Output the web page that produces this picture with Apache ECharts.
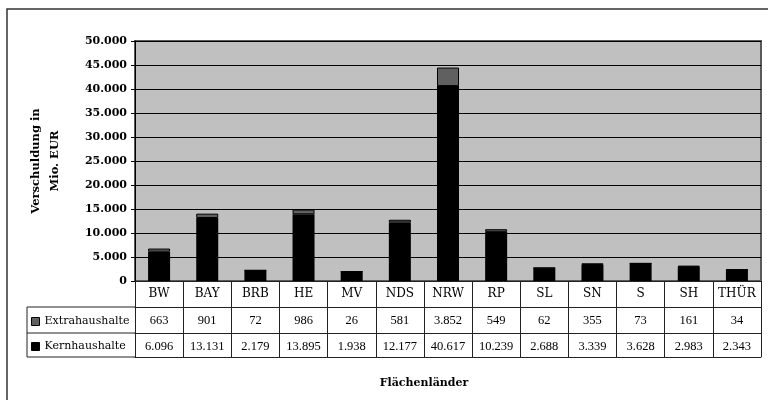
<!DOCTYPE html>
<html>
<head>
<meta charset="utf-8">
<script src="https://cdn.jsdelivr.net/npm/echarts@6/dist/echarts.min.js"></script>
<style>html,body{margin:0;padding:0;background:#fff;}#c{width:768px;height:400px;}</style>
</head>
<body>
<div id="c"></div>
<script>
const categories = ['BW','BAY','BRB','HE','MV','NDS','NRW','RP','SL','SN','S','SH','THÜR'];
const extraValues = [663,901,72,986,26,581,3852,549,62,355,73,161,34];
const kernValues = [6096,13131,2179,13895,1938,12177,40617,10239,2688,3339,3628,2983,2343];
const seriesNames = ['Extrahaushalte','Kernhaushalte'];
const yMin = 0, yMax = 50000, yStep = 5000;

function fmt(v){ return String(v).replace(/\B(?=(\d{3})+(?!\d))/g, '.'); }

const chart = echarts.init(document.getElementById('c'));
const lineCol = '#222';
const tableAxis = (data, offset, tickLen, label, fontFamily, fontSize) => ({
  type: 'category', data: data, position: 'bottom', offset: offset,
  axisLine: {show: true, lineStyle: {color: lineCol, width: 1}},
  axisTick: {show: tickLen > 0, length: tickLen, interval: 0, lineStyle: {color: lineCol, width: 1}},
  axisLabel: {show: label, interval: 0, margin: 7, color: '#000', fontFamily: fontFamily, fontSize: fontSize},
  splitLine: {show: false}
});
chart.setOption({
  animation: false,
  backgroundColor: '#fff',
  grid: {left: 135, right: 7, top: 41, bottom: 119, show: true, backgroundColor: '#c0c0c0', borderColor: '#5a5a5a', borderWidth: 2},
  legend: {
    data: seriesNames, orient: 'vertical', left: 31, top: 316, padding: 0, itemWidth: 8, itemHeight: 8, itemGap: 14,
    icon: 'rect', selectedMode: false,
    itemStyle: {borderColor: '#000', borderWidth: 1},
    textStyle: {fontFamily: 'DejaVu Serif', fontSize: 11, color: '#000'}
  },
  xAxis: [
    tableAxis(categories, 0, 26, true, 'DejaVu Serif', 12),
    tableAxis(extraValues.map(fmt), 26, 26, true, 'Liberation Serif', 12.5),
    tableAxis(kernValues.map(fmt), 52, 24, true, 'Liberation Serif', 12.5),
    tableAxis(categories, 76, 0, false, 'Liberation Serif', 12)
  ],
  yAxis: {
    type: 'value', min: yMin, max: yMax, interval: yStep,
    name: 'Verschuldung in\nMio. EUR', nameLocation: 'middle', nameRotate: 90, nameGap: 70,
    nameTextStyle: {fontFamily: 'DejaVu Serif', fontWeight: 'bold', fontSize: 11.5, color: '#000', lineHeight: 19, align: 'center'},
    axisLine: {show: true, lineStyle: {color: '#000', width: 1}},
    axisTick: {show: true, length: 4, lineStyle: {color: '#000'}},
    axisLabel: {margin: 8, fontFamily: 'DejaVu Serif', fontWeight: 'bold', fontSize: 11, color: '#000', formatter: v => fmt(v)},
    splitLine: {show: true, lineStyle: {color: '#000', width: 1}}
  },
  series: [
    {name: seriesNames[1], type: 'bar', stack: 'a', data: kernValues, barWidth: 22, itemStyle: {color: '#000'}},
    {name: seriesNames[0], type: 'bar', stack: 'a', data: extraValues, barWidth: 22, itemStyle: {color: '#606060', borderColor: '#000', borderWidth: 1}}
  ],
  graphic: [
    {type: 'rect', shape: {x: 7, y: 9, width: 800, height: 500}, style: {fill: 'none', stroke: '#333', lineWidth: 1.5}, silent: true},
    {type: 'line', shape: {x1: 27, y1: 307, x2: 135, y2: 307}, style: {stroke: lineCol, lineWidth: 1}},
    {type: 'line', shape: {x1: 27, y1: 333, x2: 135, y2: 333}, style: {stroke: lineCol, lineWidth: 1}},
    {type: 'line', shape: {x1: 27, y1: 357, x2: 135, y2: 357}, style: {stroke: lineCol, lineWidth: 1}},
    {type: 'line', shape: {x1: 27, y1: 307, x2: 27, y2: 357}, style: {stroke: lineCol, lineWidth: 1}},
    {type: 'text', x: 424, y: 383, style: {text: 'Flächenländer', font: 'bold 11px "DejaVu Serif"', align: 'center', verticalAlign: 'middle', fill: '#000'}}
  ]
});
</script>
</body>
</html>
